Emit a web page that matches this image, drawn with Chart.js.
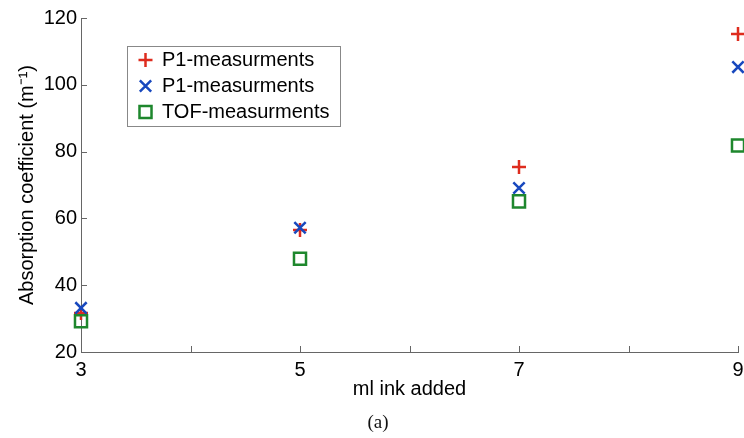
<!DOCTYPE html>
<html><head><meta charset="utf-8">
<script src="https://cdn.jsdelivr.net/npm/chart.js@4"></script>
<style>html,body{margin:0;padding:0;background:#fff}#wrap{width:744px;height:438px;position:relative}</style>
</head><body><div id="wrap"><canvas id="c" width="744" height="438"></canvas></div>
<script>
// ---- data ----
const inkAdded = [3, 5, 7, 9];
const p1Plus = [31.7, 56.5, 75.4, 115.2];
const p1Cross = [33.2, 57.2, 69.1, 105.3];
const tofSquare = [29.2, 47.9, 65.1, 81.8];
const seriesNames = ['P1-measurments', 'P1-measurments', 'TOF-measurments'];
const xTickLabels = ['3', '5', '7', '9'];
const yTickLabels = ['20', '40', '60', '80', '100', '120'];
const xTitle = 'ml ink added';
const yTitle = 'Absorption coefficient (m\u207B\u00B9)';
const caption = '(a)';

const FONT = '"Liberation Sans", Arial, sans-serif';
const toPts = vals => inkAdded.map((x, i) => ({x, y: vals[i]}));

const innerTicks = {
  id: 'innerTicks',
  beforeDatasetsDraw(chart) {
    const {ctx, chartArea: a, scales: {x, y}} = chart;
    ctx.save();
    ctx.strokeStyle = '#666'; ctx.lineWidth = 1;
    ctx.beginPath();
    x.ticks.forEach(t => { const px = Math.round(x.getPixelForValue(t.value)) + 0.5; ctx.moveTo(px, a.bottom); ctx.lineTo(px, a.bottom - 6); });
    y.ticks.forEach(t => { const py = Math.round(y.getPixelForValue(t.value)) + 0.5; ctx.moveTo(a.left, py); ctx.lineTo(a.left + 6, py); });
    ctx.stroke();
    ctx.restore();
  }
};

const boxLegend = {
  id: 'boxLegend',
  afterDraw(chart) {
    const {ctx, chartArea: a} = chart;
    const bx = a.left + 46, by = a.top + 28, bw = 213, bh = 80;
    ctx.save();
    ctx.fillStyle = '#fff'; ctx.fillRect(bx, by, bw, bh);
    ctx.strokeStyle = '#888'; ctx.lineWidth = 1; ctx.strokeRect(bx + 0.5, by + 0.5, bw, bh);
    chart.data.datasets.forEach((ds, i) => {
      const cy = by + 14 + i * 26;
      ctx.save();
      ctx.strokeStyle = ds.borderColor; ctx.fillStyle = 'rgba(0,0,0,0)'; ctx.lineWidth = ds.borderWidth;
      Chart.helpers.drawPoint(ctx, {pointStyle: ds.pointStyle, radius: ds.pointRadius, borderWidth: ds.borderWidth, rotation: 0}, bx + 18.5, cy);
      ctx.restore();
      ctx.fillStyle = '#000'; ctx.font = '20px ' + FONT; ctx.textBaseline = 'middle'; ctx.textAlign = 'left';
      ctx.fillText(ds.label, bx + 35, cy);
    });
    ctx.fillStyle = '#111'; ctx.font = '19px "Liberation Serif", serif'; ctx.textAlign = 'center'; ctx.textBaseline = 'middle';
    ctx.fillText(caption, 378, 423);
    ctx.restore();
  }
};

new Chart(document.getElementById('c'), {
  type: 'scatter',
  data: {
    datasets: [
      {label: seriesNames[0], data: toPts(p1Plus), pointStyle: 'cross', pointRadius: 7, borderWidth: 2.5, borderColor: 'rgb(222,44,30)', backgroundColor: 'rgba(0,0,0,0)', order: 3, clip: false},
      {label: seriesNames[1], data: toPts(p1Cross), pointStyle: 'crossRot', pointRadius: 8, borderWidth: 2.5, borderColor: 'rgb(24,72,190)', backgroundColor: 'rgba(0,0,0,0)', order: 2, clip: false},
      {label: seriesNames[2], data: toPts(tofSquare), pointStyle: 'rect', pointRadius: 8.5, borderWidth: 2.5, borderColor: 'rgb(30,135,45)', backgroundColor: 'rgba(0,0,0,0)', order: 1, clip: false}
    ]
  },
  options: {
    responsive: false, animation: false, devicePixelRatio: 1,
    layout: {autoPadding: false, padding: {left: 0, top: 18, right: 6, bottom: 0}},
    plugins: {legend: {display: false}, tooltip: {enabled: false}},
    elements: {point: {hoverRadius: 8}},
    scales: {
      x: {
        type: 'linear', min: 3, max: 9,
        afterFit: s => { s.height = 86; s.paddingLeft = 0; s.paddingRight = 0; },
        grid: {display: false, drawTicks: false},
        border: {display: true, color: '#666', width: 1},
        ticks: {stepSize: 1, autoSkip: false, maxRotation: 0, padding: 6, color: '#000', font: {family: FONT, size: 20},
          callback: v => xTickLabels.includes(String(v)) ? String(v) : ''},
        title: {display: true, text: xTitle, color: '#000', font: {family: FONT, size: 20}, padding: {top: 0, bottom: 37}}
      },
      y: {
        type: 'linear', min: 20, max: 120,
        afterFit: s => { s.width = 81; s.paddingTop = 0; s.paddingBottom = 0; },
        grid: {display: false, drawTicks: false},
        border: {display: true, color: '#666', width: 1},
        ticks: {stepSize: 20, padding: 4, color: '#000', font: {family: FONT, size: 20},
          callback: v => yTickLabels.includes(String(v)) ? String(v) : ''},
        title: {display: true, text: yTitle, color: '#000', font: {family: FONT, size: 20}, padding: {top: 15, bottom: 0}}
      }
    }
  },
  plugins: [innerTicks, boxLegend]
});
</script>
</body></html>
